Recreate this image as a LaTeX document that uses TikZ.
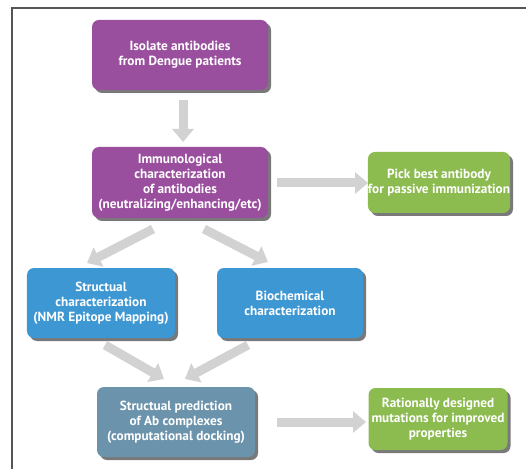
\documentclass[tikz,border=0pt]{standalone}
\usepackage{fontspec}
\setmainfont{PT Sans}
\usetikzlibrary{arrows.meta,shadows}
\definecolor{purp}{HTML}{9A4F9E}
\definecolor{grn}{HTML}{8CBB4F}
\definecolor{blu}{HTML}{3D97D3}
\definecolor{gblu}{HTML}{6B93AB}
\definecolor{arr}{HTML}{D2D2D2}
\definecolor{frm}{HTML}{555555}
\tikzset{
  box/.style={rounded corners=7bp, text=white, font=\bfseries\fontsize{13.3}{15}\selectfont,
    align=center, inner sep=0pt,
    drop shadow={shadow xshift=3bp, shadow yshift=-3bp, opacity=0.7, fill=black!75}},
  fat/.style={draw=arr, line width=9bp, -{Triangle[length=13bp,width=21bp]}}
}
\begin{document}
\begin{tikzpicture}[x=1bp,y=-1bp]
\useasboundingbox (0,0) rectangle (526,469);
\draw[frm, line width=1.3bp] (12,469) -- (12,8) -- (526,8);
% boxes
\node[box, fill=purp, minimum width=176bp, minimum height=70bp] (iso) at (180,55) {Isolate antibodies\\from Dengue patients};
\node[box, fill=purp, minimum width=176bp, minimum height=71bp] (imm) at (180,182.5) {Immunological\\characterization\\of antibodies\\(neutralizing/enhancing/etc)};
\node[box, fill=grn, minimum width=138bp, minimum height=61bp] (pick) at (439,182.5) {Pick best antibody\\for passive immunization};
\node[box, fill=blu, minimum width=148bp, minimum height=70bp] (str) at (101,303) {Structual\\characterization\\(NMR Epitope Mapping)};
\node[box, fill=blu, minimum width=146bp, minimum height=70bp] (bio) at (290,303) {Biochemical\\characterization};
\node[box, fill=gblu, minimum width=158bp, minimum height=70bp] (pred) at (176,422) {Structual prediction\\of Ab complexes\\(computational docking)};
\node[box, fill=grn, minimum width=139bp, minimum height=62bp] (rat) at (438,419) {Rationally designed\\mutations for improved\\properties};
% arrows
\coordinate (a1) at (183,100); \coordinate (a2) at (183,142);
\draw[fat] (a1) -- (a2);
\coordinate (b1) at (277,183); \coordinate (b2) at (368,183);
\draw[fat] (b1) -- (b2);
\coordinate (c1) at (153,229); \coordinate (c2) at (87,263);
\draw[fat] (c1) -- (c2);
\coordinate (d1) at (204,229); \coordinate (d2) at (268,262);
\draw[fat] (d1) -- (d2);
\coordinate (e1) at (105,345); \coordinate (e2) at (164,379);
\draw[fat] (e1) -- (e2);
\coordinate (f1) at (248,345); \coordinate (f2) at (185,379);
\draw[fat] (f1) -- (f2);
\coordinate (g1) at (277,422); \coordinate (g2) at (366,422);
\draw[fat] (g1) -- (g2);
\end{tikzpicture}
\end{document}
